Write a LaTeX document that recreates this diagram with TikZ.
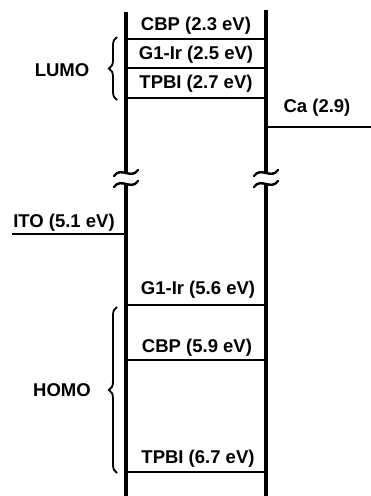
\documentclass[tikz,border=0pt]{standalone}
\usepackage{fontspec}
\setmainfont{Liberation Sans}
\usetikzlibrary{decorations.pathreplacing}
\tikzset{
  lbl/.style={inner sep=0pt, font=\fontsize{18.5}{20}\selectfont\bfseries},
  axis/.style={line width=3.2pt},
  level/.style={line width=2.6pt},
  brk/.style={line width=2.4pt, line cap=round},
  brc/.style={line width=1.8pt, decorate, decoration={brace, amplitude=8pt, raise=0pt}},
}
\begin{document}
\begin{tikzpicture}[x=1pt,y=-1pt]
\useasboundingbox (0,0) rectangle (371,496);
% axis end points
\coordinate (LT) at (126,12);
\coordinate (LB1) at (126,173);
\coordinate (LB2) at (126,184);
\coordinate (LE) at (126,496);
\coordinate (RT) at (266,10);
\coordinate (RB1) at (266,173);
\coordinate (RB2) at (266,184);
\coordinate (RE) at (266,496);
% vertical axes with breaks
\draw[axis] (LT) -- (LB1);
\draw[axis] (LB2) -- (LE);
\draw[axis] (RT) -- (RB1);
\draw[axis] (RB2) -- (RE);
\foreach \p in {LB1,LB2,RB1,RB2}{
  \draw[brk] ([shift={(-12,3)}]\p) .. controls ([shift={(-5,-7)}]\p) and ([shift={(5,7)}]\p) .. ([shift={(12,-3)}]\p);
}
% levels
\foreach \y/\n in {39/a,68/b,98/c,305/d,360/e,472/f}{
  \coordinate (l\n) at (126,\y);
  \coordinate (r\n) at (266,\y);
  \draw[level] (l\n) -- (r\n);
}
\coordinate (ca1) at (266,127);
\coordinate (ca2) at (371,127);
\draw[level] (ca1) -- (ca2);
\coordinate (ito1) at (12,234);
\coordinate (ito2) at (126,234);
\draw[level] (ito1) -- (ito2);
% labels
\node[lbl] (cbpL) at (196,26) {CBP (2.3 eV)};
\node[lbl] (g1L) at (196,55) {G1-Ir (2.5 eV)};
\node[lbl] (tpL) at (196,84) {TPBI (2.7 eV)};
\node[lbl] (ca) at (317,108) {Ca (2.9)};
\node[lbl] (ito) at (64,223) {ITO (5.1 eV)};
\node[lbl] (g1H) at (198,290) {G1-Ir (5.6 eV)};
\node[lbl] (cbpH) at (197,348) {CBP (5.9 eV)};
\node[lbl] (tpH) at (198,459) {TPBI (6.7 eV)};
% braces
\coordinate (lb1) at (117,100);
\coordinate (lb2) at (117,37);
\draw[brc] (lb1) -- (lb2);
\node[lbl] (lumo) at (62,70) {LUMO};
\coordinate (hb1) at (117,473);
\coordinate (hb2) at (117,307);
\draw[brc] (hb1) -- (hb2);
\node[lbl] (homo) at (62,390) {HOMO};
\end{tikzpicture}
\end{document}
